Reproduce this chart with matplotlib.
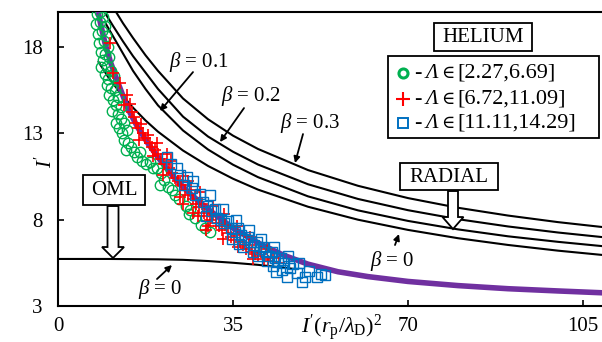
import matplotlib
matplotlib.use("Agg")
import matplotlib.pyplot as plt
from matplotlib.patches import Rectangle, Polygon

plt.rcParams['font.family'] = ['Liberation Serif', 'DejaVu Serif']
plt.rcParams['mathtext.fontset'] = 'custom'
plt.rcParams['mathtext.rm'] = 'Liberation Serif'
plt.rcParams['mathtext.it'] = 'Liberation Serif:italic'
plt.rcParams['mathtext.bf'] = 'Liberation Serif:bold'

FS = 15

# ---- radial-theory curves (beta = 0, 0.1, 0.2, 0.3) ----
radial_b0_x = [8.0, 10.0, 12.5, 15.0, 17.5, 20.0, 25.0, 30.0, 35.0, 40.0, 50.0, 60.0, 70.0, 80.0, 90.0, 100.0, 110.0]
radial_b0_y = [17.16, 16.26, 15.30, 14.47, 13.73, 13.08, 11.99, 11.10, 10.36, 9.73, 8.74, 7.99, 7.40, 6.92, 6.53, 6.20, 5.92]

radial_b1_x = [9.5, 10.4, 13.0, 15.0, 17.5, 20.0, 25.0, 30.0, 35.0, 40.0, 50.0, 60.0, 70.0, 80.0, 90.0, 100.0, 110.0]
radial_b1_y = [19.35, 18.90, 17.60, 16.60, 15.55, 14.60, 13.15, 12.05, 11.17, 10.45, 9.34, 8.53, 7.92, 7.43, 7.03, 6.71, 6.43]

radial_b2_x = [9.4, 11.0, 13.0, 15.0, 17.5, 20.0, 25.0, 30.0, 35.0, 40.0, 50.0, 60.0, 70.0, 80.0, 90.0, 100.0, 110.0]
radial_b2_y = [19.95, 19.20, 18.30, 17.45, 16.50, 15.55, 13.95, 12.80, 11.92, 11.18, 10.04, 9.19, 8.54, 8.02, 7.60, 7.25, 6.95]

radial_b3_x = [11.5, 13.0, 15.0, 17.5, 20.0, 25.0, 30.0, 35.0, 40.0, 50.0, 60.0, 70.0, 80.0, 90.0, 100.0, 110.0]
radial_b3_y = [20.05, 19.35, 18.50, 17.50, 16.60, 15.00, 13.80, 12.85, 12.08, 10.86, 9.95, 9.24, 8.68, 8.23, 7.85, 7.53]

# ---- OML curve (beta = 0) ----
oml_x = [0.0, 10.0, 20.0, 25.0, 30.0, 35.0, 40.0, 45.0, 47.0]
oml_y = [5.72, 5.72, 5.70, 5.67, 5.60, 5.50, 5.38, 5.22, 5.15]

# ---- fitted curve ----
fit_x = [7.9, 8.6, 9.4, 10.5, 12.0, 14.0, 16.0, 18.0, 20.0, 23.0, 26.0, 30.0, 35.0, 40.0,
         45.0, 50.0, 56.0, 62.0, 70.0, 80.0, 90.0, 100.0, 110.0]
fit_y = [20.2, 19.2, 18.2, 17.1, 15.9, 14.4, 13.3, 12.4, 11.6, 10.5, 9.6, 8.6, 7.5, 6.65,
         5.95, 5.42, 4.98, 4.70, 4.42, 4.18, 4.00, 3.87, 3.75]

# ---- helium measurements, grouped by Lambda range ----
green_x = [7.8, 8.3, 8.9, 7.6, 8.4, 9.3, 7.9, 8.7, 9.6, 8.2, 9.1, 10.0, 8.5, 9.4, 8.9, 10.2,
           9.8, 8.6, 9.3, 10.5, 10.0, 11.2, 9.7, 10.6, 10.2, 11.4, 11.0, 12.0, 11.6, 10.8,
           12.5, 11.9, 12.6, 11.5, 12.2, 13.2, 12.8, 13.8, 13.2, 14.0, 13.6, 14.6, 15.2,
           15.8, 16.4, 16.8, 17.6, 18.4, 19.0, 19.8, 20.6, 21.2, 20.4, 22.0, 22.8, 23.4,
           24.2, 25.6, 26.4, 26.2, 27.4, 28.6, 29.4, 30.4]
green_y = [19.9, 20.0, 19.7, 19.3, 19.4, 19.2, 18.7, 18.9, 18.6, 18.2, 18.3, 18.0, 17.7, 17.6,
           17.2, 17.4, 16.9, 16.8, 16.4, 16.6, 16.1, 16.3, 15.8, 15.6, 15.2, 15.5, 14.9, 15.1,
           14.6, 14.3, 14.5, 14.1, 13.8, 13.6, 13.3, 13.6, 13.0, 13.2, 12.6, 12.4, 12.0, 12.2,
           11.9, 11.6, 11.9, 11.4, 11.2, 11.3, 11.0, 11.0, 10.7, 10.3, 10.0, 9.9, 9.7, 9.4,
           9.2, 8.8, 8.55, 8.3, 8.1, 7.7, 7.5, 7.3]

red_x = [10.4, 11.0, 12.4, 13.8, 13.2, 14.4, 14.8, 15.2, 15.6, 16.0, 16.6, 17.0, 17.4, 18.0, 18.4,
         18.8, 19.4, 19.0, 20.0, 20.6, 21.2, 21.8, 22.2, 22.8, 23.4, 24.0, 24.6, 25.0, 25.4, 26.0,
         26.6, 27.0, 27.6, 28.2, 28.8, 29.2, 29.8, 30.4, 31.0, 31.6, 32.2, 32.8, 33.4, 34.0, 34.6,
         35.2, 35.8, 36.4, 37.0, 37.6, 38.2, 38.8, 39.4, 40.0, 40.6, 41.2, 42.0, 24.4, 30.0, 33.0,
         21.0, 28.0, 43.0, 44.2, 16.2, 19.8, 22.6, 26.0, 28.4, 31.0, 33.2, 35.8, 38.4, 36.0,
         39.0, 41.8, 29.6, 27.0, 25.0]
red_y = [18.2, 16.5, 15.9, 15.2, 14.6, 14.7, 14.2, 13.9, 13.6, 13.3, 13.5, 13.0, 12.7, 12.9, 12.4,
         12.2, 12.0, 11.7, 11.8, 11.5, 11.2, 11.8, 11.0, 10.7, 10.4, 10.2, 10.0, 10.5, 9.7, 9.4,
         9.7, 9.2, 8.9, 8.7, 8.9, 8.4, 8.2, 8.0, 8.3, 7.8, 7.6, 7.4, 7.7, 7.2, 7.0,
         6.8, 7.1, 6.7, 6.5, 6.3, 6.5, 6.1, 6.0, 5.9, 6.1, 5.7, 5.6, 9.3, 7.6, 6.9,
         10.6, 8.2, 5.8, 5.5, 12.6, 12.4, 11.4, 10.2, 9.6, 8.8, 8.3, 7.6, 7.0, 6.4,
         5.7, 6.3, 7.4, 8.4, 8.9]

blue_x = [21.8, 22.6, 23.8, 24.4, 25.8, 25.2, 26.8, 27.4, 28.4, 29.0, 29.8, 30.6, 31.4, 31.8, 32.6,
          33.2, 34.0, 34.6, 35.4, 36.0, 36.6, 37.4, 38.0, 38.6, 39.2, 39.8, 40.4, 41.0, 41.6, 42.2,
          42.8, 43.4, 44.0, 44.6, 45.2, 43.0, 43.6, 45.8, 47.8, 48.8, 49.4, 51.8, 52.6, 46.4, 47.0,
          34.8, 37.0, 40.0, 29.5, 27.0, 30.4, 33.0, 35.6, 38.2, 40.6, 43.2, 46.0, 48.2, 36.2,
          41.8, 44.8, 50.2, 53.4, 39.0]
blue_y = [11.6, 11.2, 11.0, 10.6, 10.46, 10.0, 9.8, 9.4, 9.5, 9.0, 8.8, 8.5, 8.6, 8.1, 8.0,
          7.8, 7.9, 7.5, 7.3, 7.5, 7.1, 6.9, 7.0, 6.7, 6.5, 6.7, 6.3, 6.4, 6.1, 5.9,
          6.1, 5.8, 5.6, 5.75, 5.5, 5.3, 4.97, 4.68, 4.9, 4.39, 4.7, 4.68, 4.85, 5.2, 5.4,
          6.9, 6.4, 5.9, 8.2, 10.2, 9.4, 8.6, 8.0, 7.4, 6.9, 6.4, 5.9, 5.5, 6.6,
          5.6, 5.1, 5.0, 4.8, 6.1]

legend_ranges = ['[2.27,6.69]', '[6.72,11.09]', '[11.11,14.29]']

x_ticks = [0, 35, 70, 105]
y_ticks = [3, 8, 13, 18]

GREEN = '#00B050'
RED = '#FF0000'
BLUE = '#0070C0'
PURPLE = '#7030A0'

fig = plt.figure(figsize=(6.02, 3.42), dpi=100)
ax = fig.add_axes([58 / 602, 36 / 342, 544 / 602, 294 / 342])
ax.set_xlim(0, 108.8)
ax.set_ylim(3, 20)

for xs, ys in [(radial_b0_x, radial_b0_y), (radial_b1_x, radial_b1_y),
               (radial_b2_x, radial_b2_y), (radial_b3_x, radial_b3_y)]:
    ax.plot(xs, ys, color='black', lw=1.5, zorder=2, solid_capstyle='butt')
ax.plot(oml_x, oml_y, color='black', lw=1.5, zorder=2)
ax.plot(fit_x, fit_y, color=PURPLE, lw=4.0, zorder=3, solid_capstyle='butt')

ax.plot(green_x, green_y, 'o', ms=7.5, mfc='none', mec=GREEN, mew=1.0, zorder=4)
ax.plot(red_x, red_y, '+', ms=8, mec=RED, mew=1.2, zorder=5)
ax.plot(blue_x, blue_y, 's', ms=7.0, mfc='none', mec=BLUE, mew=1.0, zorder=6)

# axes styling
for side in ['left', 'bottom', 'top']:
    ax.spines[side].set_linewidth(1.5)
ax.spines['right'].set_visible(False)
ax.set_xticks(x_ticks)
ax.set_yticks(y_ticks)
ax.tick_params(direction='in', length=4.5, width=1.2, labelsize=FS,
               top=False, right=False)
ax.tick_params(axis='x', pad=8)
ax.tick_params(axis='y', pad=11)

# axis titles
ax.text(56.8, -0.075, "$I'(r_\\mathrm{p}/\\lambda_\\mathrm{D})^2$", transform=ax.get_xaxis_transform(),
        ha='center', va='center', fontsize=16)
ax.text(-0.022, 0.49, "$I'$", transform=ax.transAxes, rotation=90,
        ha='center', va='center', fontsize=FS)

def px(x, y):
    """pixel position -> data coordinates"""
    return (x - 58) / 5.0, 3 + (306 - y) / 17.3

def box(x0, y0, x1, y1, lw=1.3):
    (dx0, dy0), (dx1, dy1) = px(x0, y1), px(x1, y0)
    ax.add_patch(Rectangle((dx0, dy0), dx1 - dx0, dy1 - dy0, fill=True, fc='white',
                           ec='black', lw=lw, zorder=7, clip_on=False))

def hollow_arrow(cx, top, shaft_w, head_w, neck, tip):
    pts = [px(cx - shaft_w / 2, top), px(cx + shaft_w / 2, top), px(cx + shaft_w / 2, neck),
           px(cx + head_w / 2, neck), px(cx, tip), px(cx - head_w / 2, neck),
           px(cx - shaft_w / 2, neck)]
    ax.add_patch(Polygon(pts, closed=True, fc='white', ec='black', lw=1.3, zorder=7))

# boxed labels
box(434, 23, 532, 51)
ax.text(*px(483, 37), 'HELIUM', ha='center', va='center', fontsize=FS, zorder=8)
box(388, 56, 599, 138)
box(400, 163, 498, 190)
ax.text(*px(449, 177), 'RADIAL', ha='center', va='center', fontsize=FS, zorder=8)
box(83, 175, 145, 205)
ax.text(*px(114, 190), 'OML', ha='center', va='center', fontsize=FS, zorder=8)

hollow_arrow(453, 191, 10, 21, 217, 229)
hollow_arrow(113, 206, 11, 22, 247, 258)

# legend entries
legend_rows = [73, 99, 123]
legend_marks = [dict(marker='o', ms=6.5, mfc='none', mec=GREEN, mew=2.2),
                dict(marker='+', ms=10, mec=RED, mew=1.5),
                dict(marker='s', ms=7, mfc='none', mec=BLUE, mew=1.4)]
LFS = 16
for row, rng, mk in zip(legend_rows, legend_ranges, legend_marks):
    mx, my = px(403, row)
    ax.plot([mx], [my], ls='none', zorder=9, clip_on=False, **mk)
    ax.text(*px(414, row), '-', ha='left', va='center', fontsize=LFS, zorder=9)
    ax.text(*px(426, row), '\u039b', ha='left', va='center', fontsize=LFS - 1,
            style='italic', zorder=9)
    ax.text(*px(447.5, row), '\u2208', ha='center', va='center', fontsize=LFS - 3, zorder=9)
    ax.text(*px(457, row), rng, ha='left', va='center', fontsize=LFS, zorder=9)

# beta annotations
def beta_label(text, tx, ty, ax0, ay0, ax1, ay1):
    ax.text(*px(tx, ty), text, ha='center', va='center', fontsize=FS, zorder=8)
    ax.annotate('', xy=px(ax1, ay1), xytext=px(ax0, ay0),
                arrowprops=dict(arrowstyle='-|>', color='black', lw=1.3,
                                mutation_scale=9, shrinkA=0, shrinkB=0), zorder=8)

beta_label('$\\beta$ = 0.1', 199, 62, 193, 72, 160, 111)
beta_label('$\\beta$ = 0.2', 251, 96, 244, 108, 220, 142)
beta_label('$\\beta$ = 0.3', 310, 123, 303, 134, 295, 163)
beta_label('$\\beta$ = 0', 392, 261, 395, 245, 399, 234)
beta_label('$\\beta$ = 0', 160, 289, 157, 279, 172, 265)

fig.savefig('out.png', dpi=100)
